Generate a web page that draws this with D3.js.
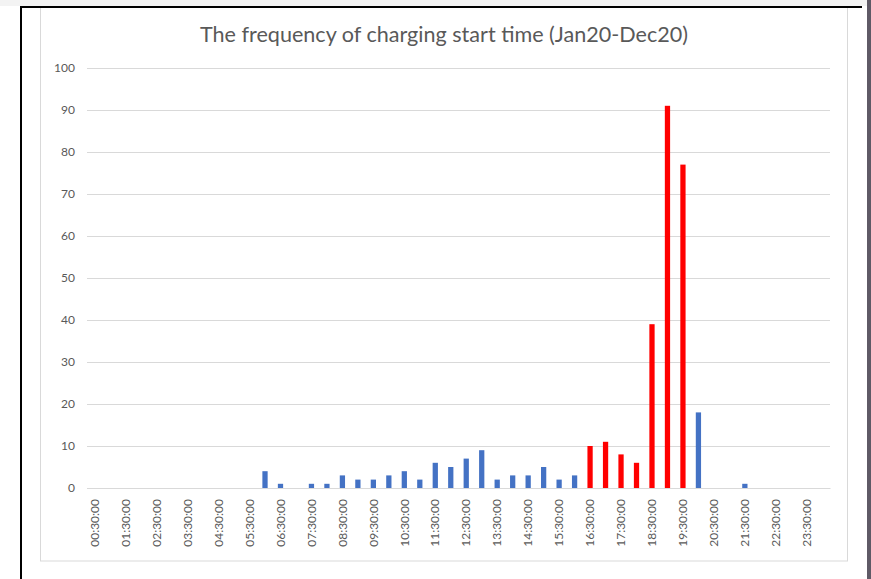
<!DOCTYPE html>
<html>
<head>
<meta charset="utf-8">
<script src="https://cdn.jsdelivr.net/npm/d3@7"></script>
<style>
  body { margin: 0; background: #ffffff; }
  svg { display: block; }
  .tick text { font-family: Lato, "Open Sans", sans-serif; fill: #595959; }
</style>
</head>
<body>
<div id="chart"></div>
<script>
// categories: start time of charging, every half hour
var startTimes = [
  "00:30:00", "01:00:00", "01:30:00", "02:00:00", "02:30:00", "03:00:00",
  "03:30:00", "04:00:00", "04:30:00", "05:00:00", "05:30:00", "06:00:00",
  "06:30:00", "07:00:00", "07:30:00", "08:00:00", "08:30:00", "09:00:00",
  "09:30:00", "10:00:00", "10:30:00", "11:00:00", "11:30:00", "12:00:00",
  "12:30:00", "13:00:00", "13:30:00", "14:00:00", "14:30:00", "15:00:00",
  "15:30:00", "16:00:00", "16:30:00", "17:00:00", "17:30:00", "18:00:00",
  "18:30:00", "19:00:00", "19:30:00", "20:00:00", "20:30:00", "21:00:00",
  "21:30:00", "22:00:00", "22:30:00", "23:00:00", "23:30:00", "00:00:00"
];

// frequency per start time
var frequency = [
  0, 0, 0, 0, 0, 0, 0, 0, 0, 0, 0, 4,
  1, 0, 1, 1, 3, 2, 2, 3, 4, 2, 6, 5,
  7, 9, 2, 3, 3, 5, 2, 3, 10, 11, 8, 6,
  39, 91, 77, 18, 0, 0, 1, 0, 0, 0, 0, 0
];

// peak hours, drawn in red
var peakTimes = ["16:30:00", "17:00:00", "17:30:00", "18:00:00", "18:30:00", "19:00:00", "19:30:00"];

// labels shown on the x axis (every other category)
var xTickLabels = [
  "00:30:00", "01:30:00", "02:30:00", "03:30:00", "04:30:00", "05:30:00",
  "06:30:00", "07:30:00", "08:30:00", "09:30:00", "10:30:00", "11:30:00",
  "12:30:00", "13:30:00", "14:30:00", "15:30:00", "16:30:00", "17:30:00",
  "18:30:00", "19:30:00", "20:30:00", "21:30:00", "22:30:00", "23:30:00"
];

var yTicks = [0, 10, 20, 30, 40, 50, 60, 70, 80, 90, 100];

var chartTitle = "The frequency of charging start time (Jan20-Dec20)";

const width = 871;
const height = 579;
const plot = {left: 87, right: 830, top: 68, bottom: 488};

var data = startTimes.map(function(t, i) {
  return {tijd: t, waarde: frequency[i]};
});

var svg = d3.select("#chart")
    .append("svg")
    .attr("width", width)
    .attr("height", height);

// achtergrond en kaders
svg.append("rect")
    .attr("width", width)
    .attr("height", height)
    .attr("fill", "#ffffff");

svg.append("rect")
    .attr("x", 0).attr("y", 0)
    .attr("width", width).attr("height", 6)
    .attr("fill", "#f3f3f3");

svg.append("rect")
    .attr("x", 867).attr("y", 0)
    .attr("width", 4).attr("height", height)
    .attr("fill", "#5f5a66");

svg.append("rect")
    .attr("x", 40.5).attr("y", 7.5)
    .attr("width", 807).attr("height", 553.5)
    .attr("fill", "#ffffff")
    .attr("stroke", "#d9d9d9");

svg.append("rect")
    .attr("x", 20).attr("y", 6)
    .attr("width", 842).attr("height", 2)
    .attr("fill", "#000000");

svg.append("rect")
    .attr("x", 20).attr("y", 6)
    .attr("width", 2).attr("height", height - 6)
    .attr("fill", "#000000");

// schalen
var xScale = d3.scaleBand()
    .domain(startTimes)
    .range([plot.left, plot.right])
    .paddingInner(0.66)
    .paddingOuter(0.33);

var yScale = d3.scaleLinear()
    .domain([0, 100])
    .range([plot.bottom, plot.top]);

// y-as met gridlijnen
var yAxis = svg.append("g")
    .attr("class", "y-axis")
    .attr("transform", "translate(" + plot.left + ",0)")
    .call(d3.axisLeft(yScale)
      .tickValues(yTicks)
      .tickSize(-(plot.right - plot.left))
      .tickPadding(12));

yAxis.select(".domain").remove();
yAxis.selectAll(".tick line")
    .attr("stroke", "#d9d9d9");
yAxis.selectAll(".tick text")
    .style("font-size", "12px");

// balken
svg.append("g")
    .attr("class", "bars")
  .selectAll("rect")
    .data(data)
    .enter()
    .append("rect")
    .attr("x", function(d) { return xScale(d.tijd); })
    .attr("y", function(d) { return yScale(d.waarde); })
    .attr("width", xScale.bandwidth())
    .attr("height", function(d) { return yScale(0) - yScale(d.waarde); })
    .attr("fill", function(d) {
      return peakTimes.indexOf(d.tijd) >= 0 ? "#ff0000" : "#4472c4";
    });

// x-as
var xAxis = svg.append("g")
    .attr("class", "x-axis")
    .attr("transform", "translate(0," + plot.bottom + ")")
    .call(d3.axisBottom(xScale)
      .tickValues(xTickLabels)
      .tickSize(0));

xAxis.select(".domain")
    .attr("stroke", "#d9d9d9");
xAxis.selectAll(".tick text")
    .style("font-size", "12px")
    .attr("transform", "rotate(-90)")
    .attr("text-anchor", "end")
    .attr("x", -11)
    .attr("y", 0)
    .attr("dy", "0.35em");

// titel
svg.append("text")
    .attr("x", 444)
    .attr("y", 42)
    .attr("text-anchor", "middle")
    .attr("textLength", 488)
    .attr("lengthAdjust", "spacingAndGlyphs")
    .style("font-family", "Lato, 'Open Sans', sans-serif")
    .style("font-size", "21px")
    .style("fill", "#595959")
    .text(chartTitle);
</script>
</body>
</html>
